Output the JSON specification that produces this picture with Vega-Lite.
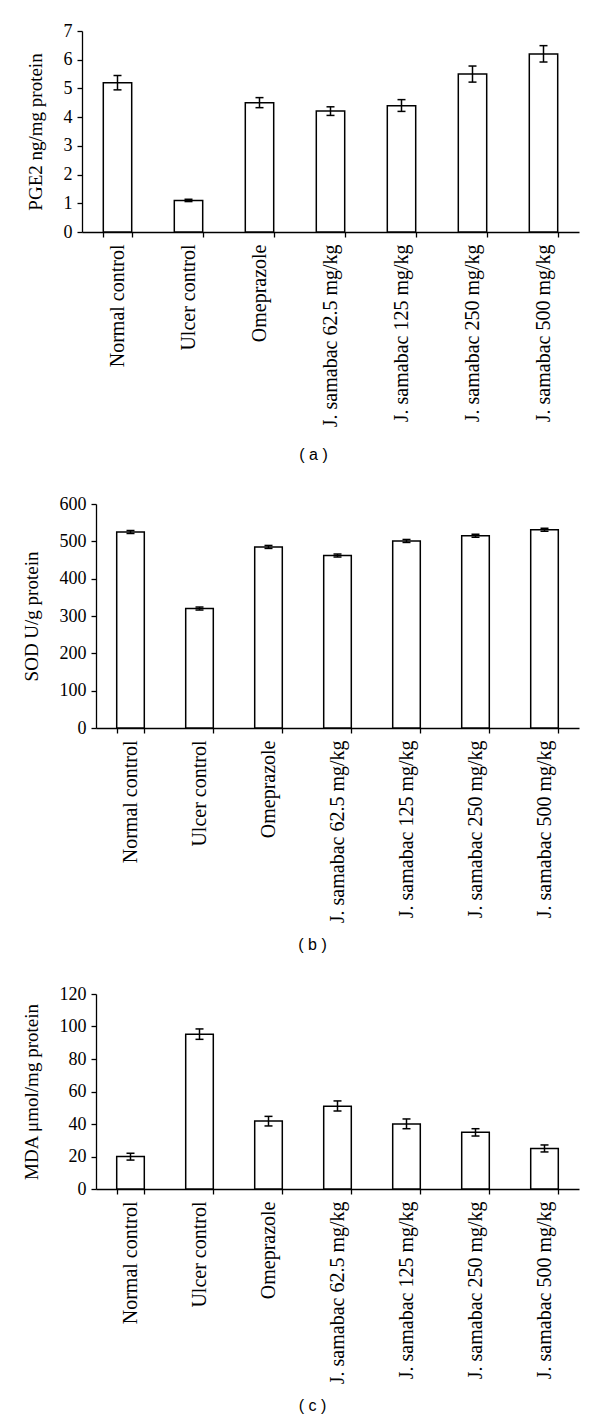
{
  "$schema": "https://vega.github.io/schema/vega-lite/v6.json",
  "padding": {"left": 22, "top": 22, "right": 5, "bottom": 5},
  "spacing": 32,
  "background": "white",
  "config": {
    "view": {"stroke": null},
    "axis": {
      "grid": false,
      "domainColor": "black",
      "tickColor": "black",
      "labelColor": "black",
      "titleColor": "black",
      "domainWidth": 1.3,
      "tickWidth": 1.3,
      "tickSize": 5,
      "labelFont": "Liberation Serif",
      "titleFont": "Liberation Serif",
      "labelFontSize": 18,
      "titleFontSize": 19,
      "titleFontWeight": "normal",
      "labelLimit": 0
    },
    "axisX": {
      "labelFont": "Liberation Serif",
      "labelAngle": -90,
      "labelFontSize": 20,
      "labelPadding": 7,
      "labelLimit": 0,
      "tickBand": "extent",
      "titleFont": "Liberation Sans",
      "titleFontSize": 16,
      "titleFontWeight": "normal",
      "titlePadding": 20
    },
    "axisY": {
      "labelFont": "Liberation Serif",
      "labelFontSize": 18,
      "labelPadding": 5,
      "labelOverlap": false,
      "titleFont": "Liberation Serif",
      "titleFontSize": 19,
      "titlePadding": 18
    }
  },
  "datasets": {
    "pge2": [
      {"group": "Normal control", "mean": 5.2, "low": 4.95, "high": 5.45},
      {"group": "Ulcer control", "mean": 1.1, "low": 1.06, "high": 1.14},
      {"group": "Omeprazole", "mean": 4.5, "low": 4.33, "high": 4.68},
      {"group": "J. samabac 62.5 mg/kg", "mean": 4.21, "low": 4.06, "high": 4.36},
      {"group": "J. samabac 125 mg/kg", "mean": 4.4, "low": 4.2, "high": 4.61},
      {"group": "J. samabac 250 mg/kg", "mean": 5.5, "low": 5.22, "high": 5.78},
      {"group": "J. samabac 500 mg/kg", "mean": 6.2, "low": 5.92, "high": 6.49}
    ],
    "sod": [
      {"group": "Normal control", "mean": 525, "low": 521, "high": 529},
      {"group": "Ulcer control", "mean": 320, "low": 316, "high": 324},
      {"group": "Omeprazole", "mean": 485, "low": 481, "high": 489},
      {"group": "J. samabac 62.5 mg/kg", "mean": 462, "low": 458, "high": 466},
      {"group": "J. samabac 125 mg/kg", "mean": 501, "low": 497, "high": 505},
      {"group": "J. samabac 250 mg/kg", "mean": 515, "low": 511, "high": 519},
      {"group": "J. samabac 500 mg/kg", "mean": 531, "low": 527, "high": 535}
    ],
    "mda": [
      {"group": "Normal control", "mean": 20, "low": 17.8, "high": 22},
      {"group": "Ulcer control", "mean": 95.3, "low": 92.1, "high": 98.5},
      {"group": "Omeprazole", "mean": 41.8, "low": 38.8, "high": 44.7},
      {"group": "J. samabac 62.5 mg/kg", "mean": 51, "low": 48, "high": 54.2},
      {"group": "J. samabac 125 mg/kg", "mean": 40, "low": 37.1, "high": 43.1},
      {"group": "J. samabac 250 mg/kg", "mean": 35, "low": 32.6, "high": 37.1},
      {"group": "J. samabac 500 mg/kg", "mean": 25, "low": 22.8, "high": 27.1}
    ]
  },
  "vconcat": [
    {
      "width": 497,
      "height": 201,
      "data": {"name": "pge2"},
      "encoding": {
        "x": {"field": "group", "type": "nominal", "sort": null,
          "scale": {"paddingInner": 0.6, "paddingOuter": 0.3},
          "axis": {"title": "( a )", "titleX": 231, "titlePadding": 20, "labelAngle": -90, "labelFontSize": 20, "labelLimit": 0, "tickBand": "extent", "titleFont": "Liberation Sans", "titleFontSize": 16}}
      },
      "layer": [
        {"mark": {"type": "bar", "fill": "white", "stroke": "black", "strokeWidth": 1.5},
          "encoding": {"y": {"field": "mean", "type": "quantitative", "title": "PGE2 ng/mg protein",
            "scale": {"domain": [0, 7], "nice": false}, "axis": {"values": [0, 1, 2, 3, 4, 5, 6, 7], "labelOverlap": false}}}},
        {"mark": {"type": "rule", "color": "black", "strokeWidth": 1.5},
          "encoding": {"y": {"field": "low", "type": "quantitative", "title": "PGE2 ng/mg protein", "axis": {"values": [0, 1, 2, 3, 4, 5, 6, 7], "labelOverlap": false}}, "y2": {"field": "high"}}},
        {"mark": {"type": "tick", "color": "black", "opacity": 1, "size": 8, "thickness": 1.5},
          "encoding": {"y": {"field": "low", "type": "quantitative", "title": "PGE2 ng/mg protein", "axis": {"values": [0, 1, 2, 3, 4, 5, 6, 7], "labelOverlap": false}}}},
        {"mark": {"type": "tick", "color": "black", "opacity": 1, "size": 8, "thickness": 1.5},
          "encoding": {"y": {"field": "high", "type": "quantitative", "title": "PGE2 ng/mg protein", "axis": {"values": [0, 1, 2, 3, 4, 5, 6, 7], "labelOverlap": false}}}}
      ]
    },
    {
      "width": 497,
      "height": 224,
      "data": {"name": "sod"},
      "encoding": {
        "x": {"field": "group", "type": "nominal", "sort": null,
          "scale": {"paddingInner": 0.6, "paddingOuter": 0.3, "range": [14, 497]},
          "axis": {"title": "( b )", "titleX": 230, "titlePadding": 14, "labelAngle": -90, "labelFontSize": 20, "labelLimit": 0, "tickBand": "extent", "titleFont": "Liberation Sans", "titleFontSize": 16}}
      },
      "layer": [
        {"mark": {"type": "bar", "fill": "white", "stroke": "black", "strokeWidth": 1.5},
          "encoding": {"y": {"field": "mean", "type": "quantitative", "title": "SOD U/g protein",
            "scale": {"domain": [0, 600], "nice": false}, "axis": {"values": [0, 100, 200, 300, 400, 500, 600], "labelOverlap": false, "offset": -14}}}},
        {"mark": {"type": "rule", "color": "black", "strokeWidth": 1.5},
          "encoding": {"y": {"field": "low", "type": "quantitative", "title": "SOD U/g protein", "axis": {"values": [0, 100, 200, 300, 400, 500, 600], "labelOverlap": false, "offset": -14}}, "y2": {"field": "high"}}},
        {"mark": {"type": "tick", "color": "black", "opacity": 1, "size": 8, "thickness": 1.5},
          "encoding": {"y": {"field": "low", "type": "quantitative", "title": "SOD U/g protein", "axis": {"values": [0, 100, 200, 300, 400, 500, 600], "labelOverlap": false, "offset": -14}}}},
        {"mark": {"type": "tick", "color": "black", "opacity": 1, "size": 8, "thickness": 1.5},
          "encoding": {"y": {"field": "high", "type": "quantitative", "title": "SOD U/g protein", "axis": {"values": [0, 100, 200, 300, 400, 500, 600], "labelOverlap": false, "offset": -14}}}}
      ]
    },
    {
      "width": 497,
      "height": 195,
      "data": {"name": "mda"},
      "encoding": {
        "x": {"field": "group", "type": "nominal", "sort": null,
          "scale": {"paddingInner": 0.6, "paddingOuter": 0.3, "range": [14, 497]},
          "axis": {"title": "( c )", "titleX": 230, "titlePadding": 14, "labelAngle": -90, "labelFontSize": 20, "labelLimit": 0, "tickBand": "extent", "titleFont": "Liberation Sans", "titleFontSize": 16}}
      },
      "layer": [
        {"mark": {"type": "bar", "fill": "white", "stroke": "black", "strokeWidth": 1.5},
          "encoding": {"y": {"field": "mean", "type": "quantitative", "title": "MDA μmol/mg protein",
            "scale": {"domain": [0, 120], "nice": false}, "axis": {"values": [0, 20, 40, 60, 80, 100, 120], "labelOverlap": false, "offset": -14}}}},
        {"mark": {"type": "rule", "color": "black", "strokeWidth": 1.5},
          "encoding": {"y": {"field": "low", "type": "quantitative", "title": "MDA μmol/mg protein", "axis": {"values": [0, 20, 40, 60, 80, 100, 120], "labelOverlap": false, "offset": -14}}, "y2": {"field": "high"}}},
        {"mark": {"type": "tick", "color": "black", "opacity": 1, "size": 8, "thickness": 1.5},
          "encoding": {"y": {"field": "low", "type": "quantitative", "title": "MDA μmol/mg protein", "axis": {"values": [0, 20, 40, 60, 80, 100, 120], "labelOverlap": false, "offset": -14}}}},
        {"mark": {"type": "tick", "color": "black", "opacity": 1, "size": 8, "thickness": 1.5},
          "encoding": {"y": {"field": "high", "type": "quantitative", "title": "MDA μmol/mg protein", "axis": {"values": [0, 20, 40, 60, 80, 100, 120], "labelOverlap": false, "offset": -14}}}}
      ]
    }
  ]
}
